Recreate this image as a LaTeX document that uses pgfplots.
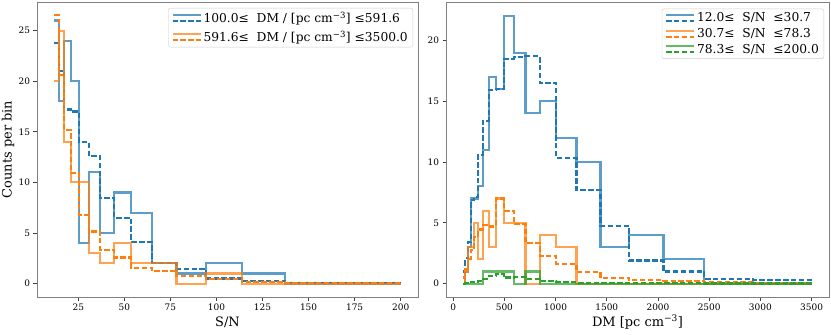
\documentclass[border=0pt]{standalone}
\usepackage{fontspec}
\setmainfont{DejaVu Serif}
\usepackage{pgfplots}
\pgfplotsset{compat=1.18}
\definecolor{tabblue}{HTML}{1F77B4}
\definecolor{taborange}{HTML}{FF7F0E}
\definecolor{tabgreen}{HTML}{2CA02C}

\pgfplotsset{
  histax/.style={
    scale only axis,
    axis line style={draw=black!50, line width=0.9bp},
    tick align=outside, major tick length=3.5bp,
    tick style={black!75, line width=0.8bp},
    tick pos=left,
    tick label style={font=\fontsize{9}{10}\selectfont},
    /pgf/number format/assume math mode=true,
    /pgf/number format/1000 sep={},
    scaled ticks=false,
    label style={font=\fontsize{13}{15}\selectfont},
    legend cell align=left,
    legend style={at={(1,1)}, anchor=north east, xshift=-5bp, yshift=-6bp,
      draw=black!20, rounded corners=2bp, fill=white, fill opacity=0.8,
      text opacity=1, font=\fontsize{12.3}{14}\selectfont,
      row sep=2.5bp, inner xsep=3bp, inner ysep=2bp},
  },
  sol/.style={const plot, no marks, line width=2.1bp, opacity=0.72, forget plot},
  das/.style={const plot, no marks, line width=2.1bp,
    dash pattern=on 5.5bp off 2.4bp, forget plot},
  duo/.style={legend image code/.code={
      \draw[#1, line width=2.1bp, opacity=0.72] (0bp,2.9bp) -- (28bp,2.9bp);
      \draw[#1, line width=2.1bp, dash pattern=on 5.5bp off 2.4bp]
        (0bp,-2.9bp) -- (28bp,-2.9bp);}},
}

\begin{document}
\begin{tikzpicture}
\useasboundingbox (0,0) rectangle (831bp,335bp);

% left panel: S/N histograms in two DM ranges
\begin{axis}[histax,
  at={(37bp,38bp)}, anchor=south west,
  width=381bp, height=295bp,
  xmin=2.6, xmax=209.4, ymin=-1.325, ymax=27.825,
  xtick={25,50,...,200}, ytick={0,5,...,25},
  xlabel={S/N}, ylabel={Counts per bin},
  xlabel style={at={(rel axis cs:0.5,0)}, anchor=center, yshift=-25bp},
  ylabel style={at={(rel axis cs:0,0.5)}, anchor=center, yshift=29bp},
]
\addplot[sol, tabblue] coordinates {
 (12,26) (14.476,18) (17.462,24) (21.064,20) (25.410,4) (30.652,11)
 (36.976,5) (44.604,9) (53.805,7) (64.905,2) (78.295,1) (94.448,2)
 (113.93,1) (137.44,0) (165.79,0) (200,0)};
\addplot[das, tabblue] coordinates {
 (12,23.8) (14.476,21.0) (17.462,17.2) (21.064,17.0) (25.410,14.0) (30.652,12.6)
 (36.976,8.45) (44.604,6.5) (53.805,4.1) (64.905,2.07) (78.295,1.45) (94.448,0.5)
 (113.93,0.22) (137.44,0.08) (165.79,0.04) (200,0.04)};
\addplot[sol, taborange] coordinates {
 (12,20) (14.476,25) (17.462,14) (21.064,10) (25.410,10) (30.652,3)
 (36.976,2) (44.604,4) (53.805,2) (64.905,2) (78.295,0) (94.448,1)
 (113.93,0) (137.44,0) (165.79,0) (200,0)};
\addplot[das, taborange] coordinates {
 (12,26.5) (14.476,20.6) (17.462,15.2) (21.064,10.9) (25.410,6.8) (30.652,5.15)
 (36.976,3.35) (44.604,2.58) (53.805,1.58) (64.905,1.24) (78.295,0.74) (94.448,0.42)
 (113.93,0.12) (137.44,0.05) (165.79,0.03) (200,0.03)};
\addlegendimage{duo=tabblue}
\addlegendentry{100.0≤\ \ DM / [pc cm\textsuperscript{−3}] ≤591.6}
\addlegendimage{duo=taborange}
\addlegendentry{591.6≤\ \ DM / [pc cm\textsuperscript{−3}] ≤3500.0}
\end{axis}

% right panel: DM histograms in three S/N ranges
\begin{axis}[histax,
  at={(446bp,38bp)}, anchor=south west,
  width=383bp, height=294.3bp,
  xmin=-70, xmax=3670, ymin=-1.1, ymax=23.1,
  xtick={0,500,...,3500}, ytick={0,5,...,20},
  xlabel={DM [pc cm\textsuperscript{−3}]},
  xlabel style={at={(rel axis cs:0.5,0)}, anchor=center, yshift=-25bp},
  legend style={row sep=1bp},
]
\addplot[sol, tabblue] coordinates {
 (100,0) (119.455,1) (142.695,3) (170.456,7) (203.618,7) (243.232,8)
 (290.553,11) (347.081,17) (414.606,16) (495.268,22) (591.622,19) (706.727,14)
 (844.22,15) (1008.46,12) (1204.67,10) (1439.04,3) (1718.99,4) (2053.43,2)
 (2452.93,0) (2930.15,0) (3500,0)};
\addplot[das, tabblue] coordinates {
 (100,1.0) (119.455,2.1) (142.695,3.4) (170.456,6.9) (203.618,7.1) (243.232,10.6)
 (290.553,13.4) (347.081,15.9) (414.606,16.0) (495.268,18.5) (591.622,18.6) (706.727,18.7)
 (844.22,16.5) (1008.46,10.3) (1204.67,7.7) (1439.04,4.75) (1718.99,1.9) (2053.43,1.0)
 (2452.93,0.4) (2930.15,0.32) (3500,0.32)};
\addplot[sol, taborange] coordinates {
 (100,0) (119.455,1) (142.695,3) (170.456,3) (203.618,5) (243.232,2)
 (290.553,6) (347.081,3) (414.606,7) (495.268,5) (591.622,5) (706.727,0)
 (844.22,4) (1008.46,3) (1204.67,0) (1439.04,0) (1718.99,0) (2053.43,0)
 (2452.93,0) (2930.15,0) (3500,0)};
\addplot[das, taborange] coordinates {
 (100,0.5) (119.455,1.2) (142.695,2.0) (170.456,2.8) (203.618,3.8) (243.232,4.45)
 (290.553,4.8) (347.081,4.7) (414.606,7.0) (495.268,6.0) (591.622,4.9) (706.727,3.35)
 (844.22,2.3) (1008.46,1.65) (1204.67,0.95) (1439.04,0.48) (1718.99,0.27) (2053.43,0.2)
 (2452.93,0.1) (2930.15,0.05) (3500,0.05)};
\addplot[sol, tabgreen] coordinates {
 (100,0) (119.455,0) (142.695,0) (170.456,0) (203.618,0) (243.232,0)
 (290.553,1) (347.081,1) (414.606,1) (495.268,1) (591.622,0) (706.727,1)
 (844.22,0) (1008.46,0) (1204.67,0) (1439.04,0) (1718.99,0) (2053.43,0)
 (2452.93,0) (2930.15,0) (3500,0)};
\addplot[das, tabgreen] coordinates {
 (100,0) (119.455,0.02) (142.695,0.05) (170.456,0.1) (203.618,0.15) (243.232,0.25)
 (290.553,0.4) (347.081,0.6) (414.606,0.8) (495.268,0.5) (591.622,0.55) (706.727,0.4)
 (844.22,0.25) (1008.46,0.15) (1204.67,0.08) (1439.04,0.05) (1718.99,0.03) (2053.43,0.02)
 (2452.93,0.01) (2930.15,0.01) (3500,0.01)};
\addlegendimage{duo=tabblue}
\addlegendentry{12.0≤\ \ S/N \ ≤30.7}
\addlegendimage{duo=taborange}
\addlegendentry{30.7≤\ \ S/N \ ≤78.3}
\addlegendimage{duo=tabgreen}
\addlegendentry{78.3≤\ \ S/N \ ≤200.0}
\end{axis}
\end{tikzpicture}
\end{document}
